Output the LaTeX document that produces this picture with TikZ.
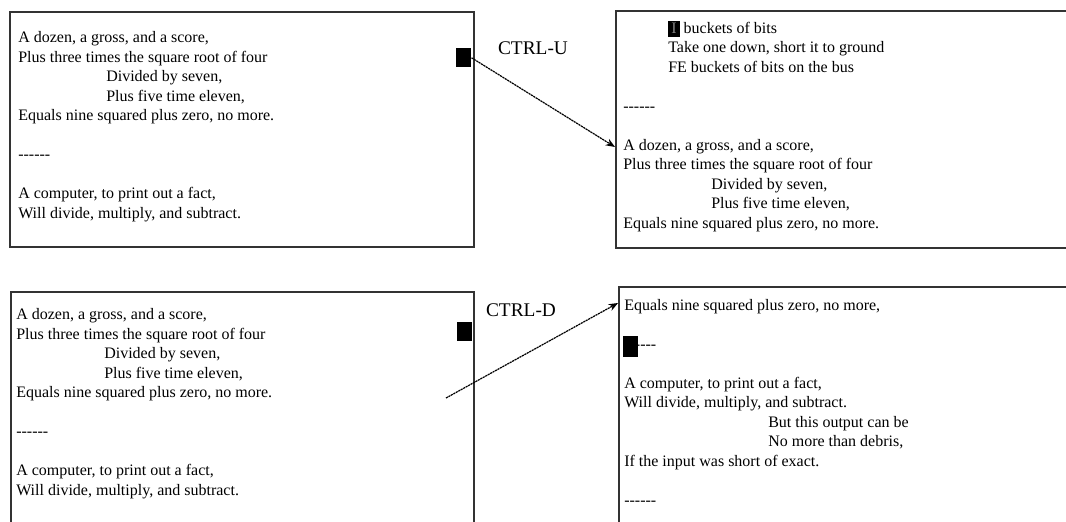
\documentclass[tikz,border=0pt]{standalone}
\usepackage{fontspec}
\setmainfont{Liberation Serif}
\usetikzlibrary{arrows.meta}

\newcommand\blankline{\\[14.6pt]}
\newcommand\ind{\hspace*{66pt}}
\newcommand\dashes{\hbox{-}\hbox{-}\hbox{-}\hbox{-}\hbox{-}\hbox{-}}
\newcommand\marked[1]{{\fboxsep=1.5pt\colorbox{black}{\hspace{0.8pt}\rule[-1.5pt]{0pt}{9pt}\color{gray}#1\hspace{0.8pt}}}}

\begin{document}
\begin{tikzpicture}[x=0.75pt, y=-0.75pt,
    screen/.style={draw=black!80, line width=1.2pt, rectangle, anchor=north west, inner sep=0pt},
    verse/.style={anchor=base west, align=left, inner sep=0pt, font=\fontsize{12}{14.6}\selectfont},
    cursor/.style={fill=black, rectangle, inner sep=0pt, minimum width=11.25pt, minimum height=14.25pt, anchor=north west},
    keyname/.style={font=\fontsize{14.5}{17}\selectfont},
    jump/.style={-{Stealth[length=7pt,width=5.5pt]}, line width=0.9pt, dash pattern=on 1.6pt off 0.5pt}]
    \useasboundingbox (0,0) rectangle (1066,521);
    \clip (0,0) rectangle (1066,521);

    \node[screen, minimum width=348pt, minimum height=176.25pt] (tl) at (9,11) {};
    \node[screen, minimum width=345pt, minimum height=177.75pt] (tr) at (615,10) {};
    \node[screen, minimum width=347.25pt, minimum height=180pt] (bl) at (10,291) {};
    \node[screen, minimum width=342.75pt, minimum height=183.75pt] (br) at (618,286) {};

    \node[verse] (tltext) at (18,218) {A dozen, a gross, and a score,\\
        Plus three times the square root of four\\
        \ind Divided by seven,\\
        \ind Plus five time eleven,\\
        Equals nine squared plus zero, no more.\blankline
        \dashes\blankline
        A computer, to print out a fact,\\
        Will divide, multiply, and subtract.};
    \node[verse] (trtext) at (623,228) {\hspace*{33.75pt}\marked{I} buckets of bits\\
        \hspace*{33.75pt}Take one down, short it to ground\\
        \hspace*{33.75pt}FE buckets of bits on the bus\blankline
        \dashes\blankline
        A dozen, a gross, and a score,\\
        Plus three times the square root of four\\
        \ind Divided by seven,\\
        \ind Plus five time eleven,\\
        Equals nine squared plus zero, no more.};
    \node[verse] (bltext) at (16,495) {A dozen, a gross, and a score,\\
        Plus three times the square root of four\\
        \ind Divided by seven,\\
        \ind Plus five time eleven,\\
        Equals nine squared plus zero, no more.\blankline
        \dashes\blankline
        A computer, to print out a fact,\\
        Will divide, multiply, and subtract.};
    \node[verse] (brtext) at (624,505) {Equals nine squared plus zero, no more,\blankline
        \dashes\blankline
        A computer, to print out a fact,\\
        Will divide, multiply, and subtract.\\
        \hspace*{108pt}But this output can be\\
        \hspace*{108pt}No more than debris,\\
        If the input was short of exact.\blankline
        \dashes};

    \node[cursor] (tlcur) at (456,48) {};
    \node[cursor] (blcur) at (457,322) {};
    \node[cursor, minimum height=15.75pt] (brcur) at (623,336) {};

    \node[keyname] (ctrlu) at (533,48) {CTRL-U};
    \node[keyname] (ctrld) at (521,310) {CTRL-D};

    \coordinate (upin) at (615,147);
    \coordinate (downfrom) at (446,398);
    \coordinate (downin) at (618,303);

    \draw[jump] (tlcur.east) -- (upin);
    \draw[jump] (downfrom) -- (downin);
\end{tikzpicture}
\end{document}
